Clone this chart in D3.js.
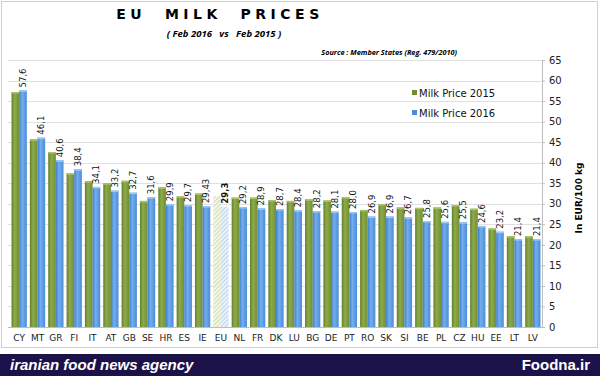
<!DOCTYPE html>
<html>
<head>
<meta charset="utf-8">
<script src="https://cdn.jsdelivr.net/npm/d3@7"></script>
<style>
  body { margin: 0; background: #fff; }
  svg { display: block; }
</style>
</head>
<body>
<div id="chart"></div>
<script>
// data
var countries = ['CY', 'MT', 'GR', 'FI', 'IT', 'AT', 'GB', 'SE', 'HR', 'ES', 'IE', 'EU', 'NL', 'FR', 'DK',
  'LU', 'BG', 'DE', 'PT', 'RO', 'SK', 'SI', 'BE', 'PL', 'CZ', 'HU', 'EE', 'LT', 'LV']
var price2015 = [57.2, 45.7, 42.6, 37.4, 35.5, 35.0, 35.6, 30.7, 34.0, 31.8, 32.5, 31.8, 31.5, 31.5, 30.9,
  30.7, 31.1, 30.8, 31.6, 28.5, 29.9, 29.1, 29.0, 29.1, 29.7, 28.8, 24.0, 22.1, 22.1]
var price2016 = [57.6, 46.1, 40.6, 38.4, 34.1, 33.2, 32.7, 31.6, 29.9, 29.7, 29.43, 29.3, 29.2, 28.9, 28.7,
  28.4, 28.2, 28.1, 28.0, 26.9, 26.9, 26.7, 25.8, 25.6, 25.5, 24.6, 23.2, 21.4, 21.4]
var seriesNames = ['Milk Price 2015', 'Milk Price 2016']
var yTicks = d3.range(0, 70, 5)

var width = 600, height = 376
var plot = {left: 10, right: 542, top: 60, bottom: 327}

var svg = d3.select("#chart")
  .append("svg")
    .attr("width", width)
    .attr("height", height)

var defs = svg.append("defs")

// cylinder-ish shading for the bars
function barGradient(id, dark, mid, light) {
  var g = defs.append("linearGradient").attr("id", id)
    .attr("x1", "0%").attr("x2", "100%").attr("y1", "0%").attr("y2", "0%")
  g.append("stop").attr("offset", "0%").attr("stop-color", dark)
  g.append("stop").attr("offset", "40%").attr("stop-color", light)
  g.append("stop").attr("offset", "100%").attr("stop-color", mid)
}
barGradient("gGreen", "#637f27", "#718f30", "#8dab4c")
barGradient("gBlue", "#3d7dcc", "#4a8cda", "#74aeec")

// hatch patterns for EU
function hatch(id, bg, line) {
  var p = defs.append("pattern").attr("id", id)
    .attr("patternUnits", "userSpaceOnUse")
    .attr("width", 3).attr("height", 3)
    .attr("patternTransform", "rotate(45)")
  p.append("rect").attr("width", 3).attr("height", 3).attr("fill", bg)
  p.append("line").attr("x1", 0).attr("y1", 0).attr("x2", 0).attr("y2", 3)
    .attr("stroke", line).attr("stroke-width", 1.2)
}
hatch("hGreen", "#f4f6e8", "#bccb8e")
hatch("hBlue", "#eaf2fb", "#9cc0e8")

// frame
svg.append("rect")
  .attr("x", 1.5).attr("y", 1.5)
  .attr("width", 596).attr("height", 346)
  .attr("fill", "none")
  .attr("stroke", "#cfcfcf")

// title
svg.append("text")
  .attr("x", 220).attr("y", 19)
  .attr("text-anchor", "middle")
  .attr("xml:space", "preserve")
  .style("font-family", "'DejaVu Sans', Verdana, sans-serif")
  .style("font-weight", "bold")
  .style("font-size", "14px")
  .style("letter-spacing", "4.5px")
  .text("EU  MILK  PRICES")

svg.append("text")
  .attr("x", 224).attr("y", 37)
  .attr("text-anchor", "middle")
  .attr("xml:space", "preserve")
  .style("font-family", "'Open Sans', sans-serif")
  .style("font-weight", "bold")
  .style("font-style", "italic")
  .style("font-size", "9.5px")
  .text("( Feb 2016   vs   Feb 2015 )")

svg.append("text")
  .attr("x", 457).attr("y", 55)
  .attr("text-anchor", "end")
  .style("font-family", "'Open Sans', sans-serif")
  .style("font-weight", "bold")
  .style("font-style", "italic")
  .style("font-size", "7.3px")
  .text("Source : Member States (Reg. 479/2010)")

// scales
var x = d3.scaleBand()
  .domain(countries)
  .range([plot.left, plot.right])
  .padding(0)

var xSub = d3.scaleBand()
  .domain([0, 1])
  .range([0, x.bandwidth()])
  .paddingInner(0)
  .paddingOuter(0.2)

var y = d3.scaleLinear()
  .domain([0, 65])
  .range([plot.bottom, plot.top])

// gridlines
svg.append("g")
  .selectAll("line")
  .data(yTicks.filter(function(d) { return d > 0; }))
  .enter()
  .append("line")
    .attr("x1", plot.left - 2)
    .attr("x2", plot.right)
    .attr("y1", function(d) { return Math.round(y(d)) + 0.5; })
    .attr("y2", function(d) { return Math.round(y(d)) + 0.5; })
    .attr("stroke", "#e0e0e0")

// Y axis on the right
var yAxis = svg.append("g")
  .attr("transform", "translate(" + plot.right + ",0)")
  .call(d3.axisRight(y).tickValues(yTicks).tickSize(3).tickPadding(4))
yAxis.select(".domain").attr("stroke", "#bdbdbd")
yAxis.selectAll(".tick line").attr("stroke", "#bdbdbd")
yAxis.selectAll("text")
  .style("font-family", "'DejaVu Sans', Verdana, sans-serif")
  .style("font-size", "10px")
  .attr("fill", "#222")

svg.append("text")
  .attr("transform", "translate(582,198)rotate(-90)")
  .attr("text-anchor", "middle")
  .style("font-family", "'DejaVu Sans', Verdana, sans-serif")
  .style("font-weight", "bold")
  .style("font-size", "9px")
  .text("In EUR/100 kg")

// bars
var rows = countries.map(function(c, i) {
  return {country: c, values: [price2015[i], price2016[i]], label: String(price2016[i].toFixed(price2016[i] * 10 % 1 ? 2 : 1)).replace(".", ",")}
})

var groups = svg.append("g")
  .selectAll("g")
  .data(rows)
  .enter()
  .append("g")
    .attr("transform", function(d) { return "translate(" + x(d.country) + ",0)"; })

groups.selectAll("rect.bar")
  .data(function(d) {
    return d.values.map(function(v, k) { return {k: k, v: v, eu: d.country == 'EU'}; })
  })
  .enter()
  .append("rect")
    .attr("class", "bar")
    .attr("x", function(d) { return xSub(d.k); })
    .attr("y", function(d) { return y(d.v); })
    .attr("width", xSub.bandwidth())
    .attr("height", function(d) { return y(0) - y(d.v); })
    .attr("fill", function(d) {
      if (d.eu) return d.k == 0 ? "url(#hGreen)" : "url(#hBlue)";
      return d.k == 0 ? "url(#gGreen)" : "url(#gBlue)";
    })

// light top caps
groups.selectAll("rect.cap")
  .data(function(d) {
    return d.values.map(function(v, k) { return {k: k, v: v, eu: d.country == 'EU'}; })
  })
  .enter()
  .append("rect")
    .attr("class", "cap")
    .attr("x", function(d) { return xSub(d.k); })
    .attr("y", function(d) { return y(d.v); })
    .attr("width", xSub.bandwidth())
    .attr("height", 1.5)
    .attr("fill", function(d) {
      if (d.eu) return "none";
      return d.k == 0 ? "#a9c36a" : "#9cc8f4";
    })

// value labels over the 2016 bars
groups.append("text")
  .attr("transform", function(d) {
    return "translate(" + (xSub(1) + xSub.bandwidth() / 2 + 3) + "," + (y(d.values[1]) - 3) + ")rotate(-90)"
  })
  .style("font-family", "'DejaVu Sans', Verdana, sans-serif")
  .style("font-size", "8.5px")
  .style("font-weight", function(d) { return d.country == 'EU' ? "bold" : "normal"; })
  .attr("fill", "#111")
  .text(function(d) { return d.label; })

// X axis
svg.append("line")
  .attr("x1", plot.left - 2).attr("x2", plot.right)
  .attr("y1", plot.bottom + 0.5).attr("y2", plot.bottom + 0.5)
  .attr("stroke", "#bdbdbd")

svg.append("g")
  .selectAll("text")
  .data(countries)
  .enter()
  .append("text")
    .attr("x", function(d) { return x(d) + x.bandwidth() / 2; })
    .attr("y", 341)
    .attr("text-anchor", "middle")
    .style("font-family", "'DejaVu Sans', Verdana, sans-serif")
    .style("font-size", "9px")
    .attr("fill", "#222")
    .text(function(d) { return d; })

// legend
var legend = svg.append("g")
  .selectAll("g")
  .data(seriesNames)
  .enter()
  .append("g")
    .attr("transform", function(d, i) { return "translate(412," + (93 + i * 20) + ")"; })
legend.append("rect")
  .attr("x", 0).attr("y", -3)
  .attr("width", 5).attr("height", 5)
  .attr("fill", function(d, i) { return i == 0 ? "#718f30" : "#4a8cda"; })
legend.append("text")
  .attr("x", 7).attr("y", 3.5)
  .style("font-family", "'DejaVu Sans', Verdana, sans-serif")
  .style("font-size", "10px")
  .attr("fill", "#111")
  .text(function(d) { return d; })

// agency footer
svg.append("rect")
  .attr("x", 0).attr("y", 354)
  .attr("width", width).attr("height", 22)
  .attr("fill", "#1b124a")

svg.append("text")
  .attr("x", 10).attr("y", 370)
  .style("font-family", "'Liberation Sans', Arial, sans-serif")
  .style("font-weight", "bold")
  .style("font-style", "italic")
  .style("font-size", "15px")
  .attr("fill", "#fff")
  .text("iranian food news agency")

svg.append("text")
  .attr("x", 590).attr("y", 370)
  .attr("text-anchor", "end")
  .style("font-family", "'Liberation Sans', Arial, sans-serif")
  .style("font-weight", "bold")
  .style("font-size", "15px")
  .attr("fill", "#fff")
  .text("Foodna.ir")
</script>
</body>
</html>
